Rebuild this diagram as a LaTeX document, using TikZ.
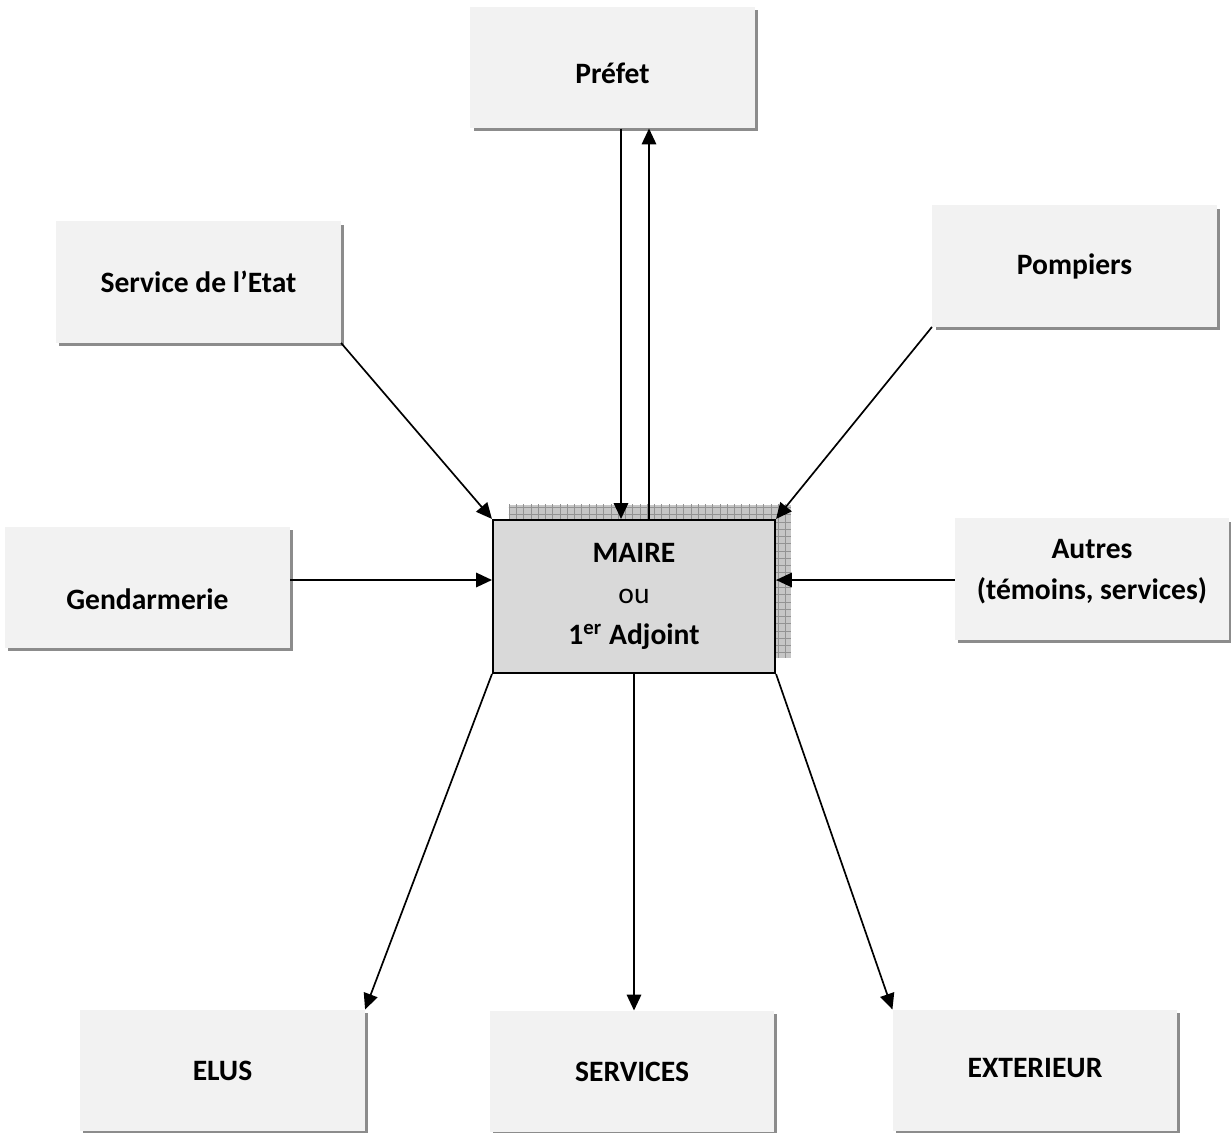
\documentclass[tikz,border=0pt]{standalone}
\usepackage{fontspec}
\setmainfont{Carlito}
\usetikzlibrary{arrows.meta, shadows, patterns, positioning}

% texte decale verticalement sans changer la boite
\newcommand{\decale}[2]{\raisebox{#1}[\height][\depth]{#2}}

\begin{document}
\begin{tikzpicture}[
        x=0.0145cm, y=-0.0145cm,
        % --- Styles ---
        boite/.style={rectangle, fill=gray!10, minimum width=4.12cm, minimum height=1.755cm, align=center, font=\fontsize{12.2pt}{17pt}\selectfont\bfseries, drop shadow={shadow xshift=0.045cm, shadow yshift=-0.045cm, fill=black!45, opacity=1}},
        maire/.style={rectangle, draw=black, line width=0.8pt, fill=gray!30, minimum width=4.09cm, minimum height=2.22cm, align=center, font=\fontsize{12.2pt}{17pt}\selectfont\bfseries, general shadow={shadow xshift=0.23cm, shadow yshift=0.22cm, fill=gray!45}, general shadow={shadow xshift=0.23cm, shadow yshift=0.22cm, pattern=grid, pattern color=gray!85}},
        % --- Line Styles ---
        fleche/.style={draw, -{Triangle[length=2.3mm, width=2.1mm]}, line width=0.7pt}
    ]
        \useasboundingbox (0,0) rectangle (1231,1133);
        \clip (0,0) rectangle (1231,1133);

        % --- Centre ---
        \node[maire] (maire) at (634,596.5) {MAIRE\\{\mdseries ou}\\1\textsuperscript{er} Adjoint};

        % --- Sources ---
        \node[boite] (prefet) at (612.5,67.5) {\decale{-0.087cm}{Préfet}};
        \node[boite] (etat) at (198.5,282) {Service de l’Etat};
        \node[boite] (pompiers) at (1074.5,266) {Pompiers};
        \node[boite] (gendarmerie) at (147.5,587.5) {\decale{-0.17cm}{Gendarmerie}};
        \node[boite, minimum width=3.97cm, text depth=8pt] (autres) at (1092,579) {Autres\\(témoins, services)};

        % --- Destinations ---
        \node[boite] (elus) at (222.5,1070.5) {ELUS};
        \node[boite] (services) at (632,1071.5) {SERVICES};
        \node[boite] (exterieur) at (1035,1070.5) {\decale{0.04cm}{EXTERIEUR}};

        % --- Connections ---
        \coordinate (bas) at (621,0);
        \coordinate (haut) at (649,0);
        \coordinate (milieu) at (0,580);
        \draw[fleche] (prefet.south -| bas) -- (maire.north -| bas);
        \draw[fleche] (maire.north -| haut) -- (prefet.south -| haut);
        \draw[fleche] (etat.south east) -- (maire.north west);
        \draw[fleche] (pompiers.south west) -- (maire.north east);
        \draw[fleche] (gendarmerie.east |- milieu) -- (maire.west |- milieu);
        \draw[fleche] (autres.west |- milieu) -- (maire.east |- milieu);
        \draw[fleche] (maire.south west) -- (elus.north east);
        \draw[fleche] (maire.south) -- (maire.south |- services.north);
        \draw[fleche] (maire.south east) -- (exterieur.north west);

    \end{tikzpicture}
\end{document}
